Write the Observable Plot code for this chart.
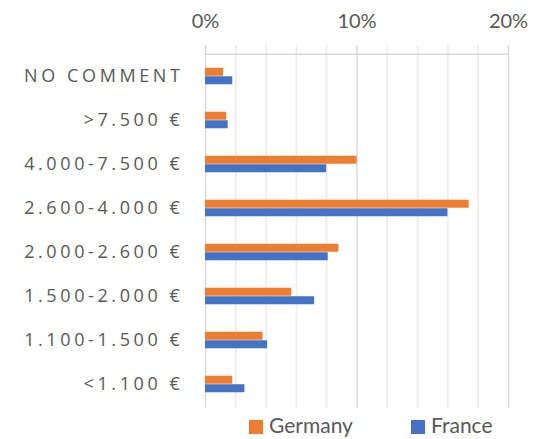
<!DOCTYPE html>
<html><head><meta charset="utf-8">
<script src="https://cdn.jsdelivr.net/npm/d3@7"></script>
<script src="https://cdn.jsdelivr.net/npm/@observablehq/plot@0.6"></script>
<style>
body{margin:0;background:#fff;}
#chart svg{display:block;}
#legend{position:relative;width:546px;height:31px;font-family:Lato,sans-serif;font-size:21px;color:#595959;}
#legend .sw{position:absolute;top:11px;width:13.5px;height:13.5px;}
#legend .lb{position:absolute;top:3px;line-height:26px;}
</style></head><body>
<div id="chart"></div>
<div id="legend"></div>
<script>
const categories = ["NO COMMENT", ">7.500 €", "4.000-7.500 €", "2.600-4.000 €", "2.000-2.600 €", "1.500-2.000 €", "1.100-1.500 €", "<1.100 €"];
const seriesNames = ["Germany", "France"];
const germany = [1.2, 1.4, 10.0, 17.4, 8.8, 5.7, 3.8, 1.8];
const france = [1.8, 1.5, 8.0, 16.0, 8.1, 7.2, 4.1, 2.6];
const xTicks = [0, 10, 20];
const gridMinor = [2, 4, 6, 8, 12, 14, 16, 18];
const colors = ["#ED7D31", "#4472C4"];

const gData = categories.map((c, i) => ({category: c, value: germany[i], series: "Germany"}));
const fData = categories.map((c, i) => ({category: c, value: france[i], series: "France"}));

const band = (408 - 52) / categories.length;
const barH = 8.5;

const chart = Plot.plot({
  width: 546,
  height: 409,
  marginTop: 52,
  marginBottom: 1,
  marginLeft: 205,
  marginRight: 38,
  x: {domain: [0, 20], label: null},
  y: {domain: categories, padding: 0, label: null},
  marks: [
    Plot.ruleX(gridMinor, {stroke: "#ebebeb", strokeWidth: 1.5, strokeOpacity: 1, insetTop: -7}),
    Plot.ruleX(xTicks, {stroke: "#d9d9d9", strokeWidth: 1.5, strokeOpacity: 1, insetTop: -7}),
    Plot.ruleY([categories[0]], {x1: 0, x2: 20, stroke: "#d9d9d9", strokeWidth: 1.5, dy: -band / 2}),
    Plot.barX(gData, {x: "value", y: "category", fill: colors[0], insetTop: band / 2 - barH, insetBottom: band / 2}),
    Plot.barX(fData, {x: "value", y: "category", fill: colors[1], insetTop: band / 2, insetBottom: band / 2 - barH}),
    Plot.axisX({anchor: "top", ticks: xTicks, tickFormat: d => d + "%", tickSize: 0, tickPadding: 25, fontSize: 20, fill: "#595959", fontFamily: "Lato", label: null}),
    Plot.axisY({anchor: "left", tickSize: 0, tickPadding: 22, fontSize: 18, fill: "#595959", fontFamily: "Open Sans", label: null})
  ]
});
d3.select(chart).selectAll('[aria-label="y-axis tick label"] text').style("letter-spacing", "3.6px");
document.getElementById("chart").appendChild(chart);

const legend = d3.select("#legend");
const swLeft = [249, 411];
const lbLeft = [269, 431];
seriesNames.forEach((s, i) => {
  legend.append("div").attr("class", "sw").style("left", swLeft[i] + "px").style("background", colors[i]);
  legend.append("div").attr("class", "lb").style("left", lbLeft[i] + "px").text(s);
});
</script>
</body></html>
